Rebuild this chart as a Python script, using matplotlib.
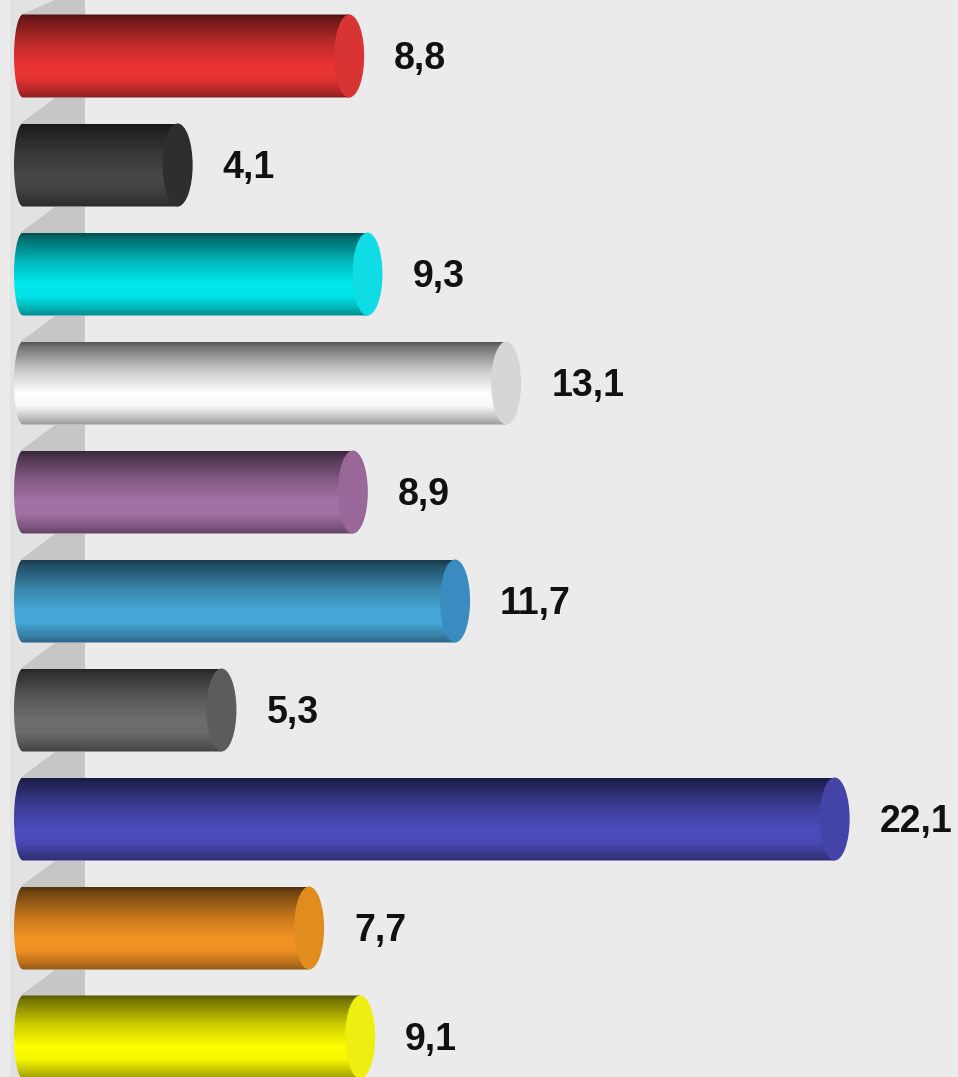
import numpy as np
import matplotlib
matplotlib.use("Agg")
import matplotlib.pyplot as plt
from matplotlib.patches import Ellipse, Polygon, PathPatch
from matplotlib.path import Path
from matplotlib.colors import to_rgb

# ---- data ----
values = [8.8, 4.1, 9.3, 13.1, 8.9, 11.7, 5.3, 22.1, 7.7, 9.1]
labels = [f"{v:.1f}".replace(".", ",") for v in values]
colors = ["#ec3434", "#464646", "#00e8ec", "#ffffff", "#a672a6",
          "#48a8d8", "#6e6e6e", "#4c4cbc", "#f49424", "#ffff00"]
cap_colors = ["#d83434", "#2e2e2e", "#10dce6", "#d6d6d6", "#9a6898",
              "#3a8cc0", "#5c5c5c", "#4444a8", "#e08c1e", "#eeee10"]

# ---- layout (pixel based) ----
W, H = 958, 1077
PX = 36.5        # px per value unit
ZERO_PX = 43     # px position of value 0
ROW_PX = 109     # px between bar centers
FIRST_PX = 56    # px center of first bar
BAR_PX = 83
CAP_PX = 30
LEFT_PX = 14

fig = plt.figure(figsize=(W / 100, H / 100), dpi=100)
bg = "#ebebeb"
fig.patch.set_facecolor(bg)
ax = fig.add_axes([0, 0, 1, 1])
ax.set_facecolor(bg)
ax.set_xlim(-ZERO_PX / PX, (W - ZERO_PX) / PX)
ax.set_ylim((H - FIRST_PX) / ROW_PX, -FIRST_PX / ROW_PX)
ax.axis("off")

def dx(p):
    return p / PX

def dy(p):
    return p / ROW_PX

def xpx(p):
    return (p - ZERO_PX) / PX

def ypx(p):
    return (p - FIRST_PX) / ROW_PX

bar_h = dy(BAR_PX)
cap_w = dx(CAP_PX)
left = xpx(LEFT_PX)

# ---- left wall ----
ax.add_patch(Polygon([(xpx(10), ypx(0)), (xpx(85), ypx(0)), (xpx(85), ypx(H)), (xpx(10), ypx(H))],
                     closed=True, facecolor="#e2e2e2", edgecolor="none", zorder=0))
n = len(values)
for i in range(-1, n):
    top = i + bar_h / 2 if i >= 0 else ypx(0)
    bot = i + 1 - bar_h / 2
    ax.add_patch(Polygon([(xpx(55), top), (xpx(85), top), (xpx(85), bot), (xpx(20), bot)],
                         closed=True, facecolor="#c6c6c6", edgecolor="none", zorder=1))

# ---- gradient profile ----
t = np.linspace(0, 1, 200)
prof = np.interp(t, [0, 0.06, 0.35, 0.62, 0.77, 0.92, 1.0],
                    [0.34, 0.46, 0.8, 1.0, 0.97, 0.75, 0.6])

for i, (v, c, cc) in enumerate(zip(values, colors, cap_colors)):
    base = np.array(to_rgb(c))
    grad = np.clip(prof[:, None] * base[None, :], 0, 1)[:, None, :]
    xe = v - cap_w / 2
    yc = i
    y0, y1 = yc - bar_h / 2, yc + bar_h / 2
    rx = dx(9)
    tt = np.linspace(-np.pi / 2, np.pi / 2, 40)
    pts = [(left + rx - rx * np.cos(a), yc + (bar_h / 2) * np.sin(a)) for a in tt]
    pts += [(xe, y1), (xe, y0), pts[0]]
    path = Path(pts)
    patch = PathPatch(path, facecolor="none", edgecolor="none")
    ax.add_patch(patch)
    im = ax.imshow(grad, extent=(left, xe, y1, y0), aspect="auto",
                   interpolation="bilinear", zorder=3)
    im.set_clip_path(patch)
    ax.add_patch(Ellipse((xe, yc), cap_w, bar_h, facecolor=cc, edgecolor="none", zorder=4))
    ax.text(v + dx(30), yc - dy(1), labels[i], fontsize=27, fontweight="bold",
            family=["Liberation Sans", "DejaVu Sans"], color="#111111",
            ha="left", va="center_baseline", zorder=5)

ax.set_xlim(-ZERO_PX / PX, (W - ZERO_PX) / PX)
ax.set_ylim((H - FIRST_PX) / ROW_PX, -FIRST_PX / ROW_PX)
fig.savefig("out.png", dpi=100, facecolor=bg)
